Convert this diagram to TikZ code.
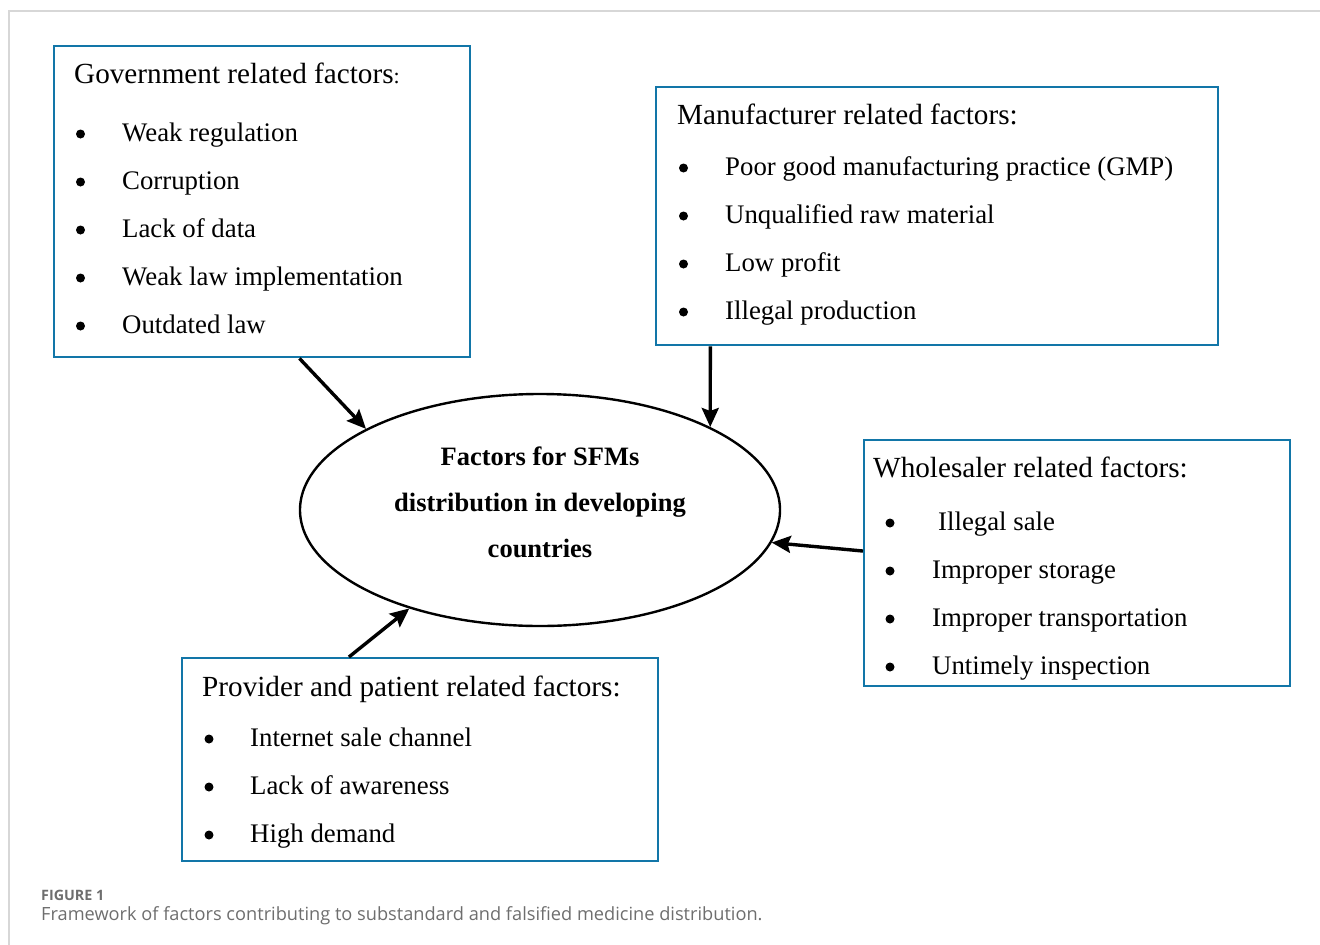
\documentclass[tikz,border=0pt]{standalone}
\usepackage{fontspec}
\setmainfont{Liberation Serif}
\newfontfamily\capfont{Open Sans}
\usetikzlibrary{arrows.meta,calc,shapes.geometric}
\definecolor{boxblue}{RGB}{18,118,168}
\definecolor{capgray}{RGB}{110,110,110}
\definecolor{framegray}{RGB}{215,215,215}
\tikzset{
  factorbox/.style={draw=boxblue,line width=2.4pt,rectangle,inner sep=0pt,anchor=north west},
  title/.style={anchor=base west,inner sep=0pt,font=\fontsize{29.2}{30}\selectfont},
  itemtext/.style={anchor=base west,inner sep=0pt,font=\fontsize{26.8}{28}\selectfont},
  bul/.style={circle,fill=black,inner sep=0pt,minimum size=9pt},
  centre/.style={draw=black,line width=2.4pt,ellipse,inner sep=0pt},
  ctext/.style={anchor=base,inner sep=0pt,font=\fontsize{26.5}{28}\selectfont\bfseries},
  arr/.style={line width=3.4pt,-{Stealth[length=19pt,width=17pt,inset=3pt]}},
}
\begin{document}
\begin{tikzpicture}[x=1pt,y=-1pt]
\useasboundingbox (0,0) rectangle (1320,945);
% frame
\draw[framegray,line width=1.5pt] (9,945) -- (9,11) -- (1320,11);

% boxes
\node[factorbox,minimum width=416pt,minimum height=311pt] (gov) at (53,45) {};
\node[factorbox,minimum width=562pt,minimum height=258pt] (man) at (655,86) {};
\node[factorbox,minimum width=426pt,minimum height=246pt] (who) at (863,439) {};
\node[factorbox,minimum width=476pt,minimum height=203pt] (pro) at (181,657) {};

% ellipse
\node[centre,minimum width=480pt,minimum height=232pt] (ell) at (540,510) {};
\node[ctext] (c1) at (540,465) {Factors for SFMs};
\node[ctext] (c2) at (540,511) {distribution in developing};
\node[ctext] (c3) at (540,557) {countries};

% government
\node[title] (govt) at (74,83) {Government related factors{\fontsize{22}{22}\selectfont:}};
\foreach \t [count=\i] in {Weak regulation,Corruption,Lack of data,Weak law implementation,Outdated law}{
  \node[bul] (govb\i) at (80.5,{86+48*\i}) {};
  \node[itemtext] (govi\i) at (122,{93+48*\i}) {\t};
}

% manufacturer
\node[title] (mant) at (677,124) {Manufacturer related factors:};
\foreach \t [count=\i] in {Poor good manufacturing practice (GMP),Unqualified raw material,Low profit,Illegal production}{
  \node[bul] (manb\i) at (683.5,{120+48*\i}) {};
  \node[itemtext] (mani\i) at (725,{127+48*\i}) {\t};
}

% wholesaler
\node[title] (whot) at (873,477) {Wholesaler related factors:};
\foreach \t/\xx [count=\i] in {Illegal sale/938,Improper storage/932,Improper transportation/932,Untimely inspection/932}{
  \node[bul] (whob\i) at (890,{475+48*\i}) {};
  \node[itemtext] (whoi\i) at (\xx,{482+48*\i}) {\t};
}

% provider
\node[title] (prot) at (202,696) {Provider and patient related factors:};
\foreach \t [count=\i] in {Internet sale channel,Lack of awareness,High demand}{
  \node[bul] (prob\i) at (209,{691+48*\i}) {};
  \node[itemtext] (proi\i) at (250,{698+48*\i}) {\t};
}

% arrows
\draw[arr] ($(gov.south west)!0.589!(gov.south east)$) -- (ell.155.6);
\draw[arr] ($(man.south west)!0.098!(man.south east)$) -- (ell.26);
\draw[arr] ($(who.north west)!0.451!(who.south west)$) -- (ell.-8.2);
\draw[arr] ($(pro.north west)!0.351!(pro.north east)$) -- (ell.217.7);

% caption
\node[anchor=base west,inner sep=0pt,text=capgray,font=\capfont\fontsize{14.3}{15}\selectfont\bfseries] (figl) at (41,900) {FIGURE 1};
\node[anchor=base west,inner sep=0pt,text=capgray,font=\capfont\fontsize{18.2}{19}\selectfont] (figc) at (41,920) {Framework of factors contributing to substandard and falsified medicine distribution.};
\end{tikzpicture}
\end{document}
